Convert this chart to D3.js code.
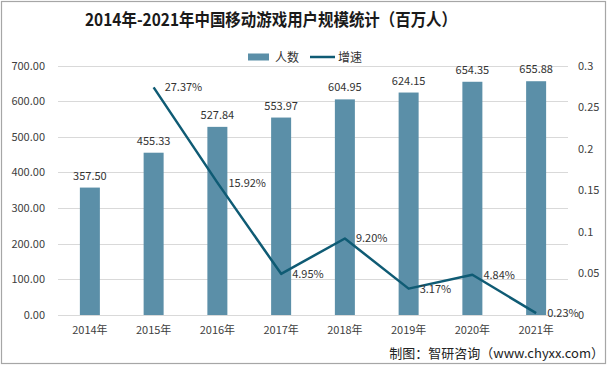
<!DOCTYPE html>
<html><head><meta charset="utf-8">
<script src="https://cdn.jsdelivr.net/npm/d3@7"></script>
<style>body{margin:0;background:#fff}svg{display:block}text{font-family:"Noto Sans CJK SC","Noto Sans",sans-serif}</style>
</head><body>
<svg id="c" width="608" height="366"></svg>
<script>
const years = ["2014年","2015年","2016年","2017年","2018年","2019年","2020年","2021年"];
const users = [357.50,455.33,527.84,553.97,604.95,624.15,654.35,655.88];
const growth = [null,0.2737,0.1592,0.0495,0.0920,0.0317,0.0484,0.0023];
const growthLabels = [null,"27.37%","15.92%","4.95%","9.20%","3.17%","4.84%","0.23%"];
const leftTicks = [0,100,200,300,400,500,600,700];
const rightTicks = [0,0.05,0.1,0.15,0.2,0.25,0.3];
const rightTickLabels = ["0","0.05","0.1","0.15","0.2","0.25","0.3"];

const svg = d3.select("#c");
const L = 58, R = 568, T = 65.5, B = 315;
const x = d3.scaleBand().domain(years).range([L, R]);
const yL = d3.scaleLinear().domain([0,700]).range([B, T]);
const yR = d3.scaleLinear().domain([0,0.3]).range([B, T]);
const barColor = "#5b8fa8", lineColor = "#0f5b74";

svg.append("rect").attr("x",1.5).attr("y",1.5).attr("width",604).attr("height",362)
  .attr("fill","#fff").attr("stroke","#a6a6a6").attr("stroke-width",1.2);

// title
const title = svg.append("text").attr("x",85).attr("y",26)
  .attr("font-size",17).attr("font-weight","bold").attr("fill","#1a1a1a")
  .text("2014年-2021年中国移动游戏用户规模统计（百万人）");
title.attr("textLength",372).attr("lengthAdjust","spacingAndGlyphs");

// legend
svg.append("rect").attr("x",248).attr("y",53.5).attr("width",21).attr("height",7).attr("fill",barColor);
svg.append("text").attr("x",275).attr("y",61.5).attr("font-size",12).attr("fill","#333").text("人数");
svg.append("line").attr("x1",310).attr("x2",335).attr("y1",57).attr("y2",57).attr("stroke",lineColor).attr("stroke-width",2.5);
svg.append("text").attr("x",338).attr("y",61.5).attr("font-size",12).attr("fill","#333").text("增速");

// gridlines
svg.append("g").selectAll("line").data(leftTicks).join("line")
  .attr("x1",L).attr("x2",R).attr("y1",d=>Math.round(yL(d))+0.5).attr("y2",d=>Math.round(yL(d))+0.5)
  .attr("stroke","#d9d9d9").attr("stroke-width",1);

// left axis
const gl = svg.append("g").attr("transform",`translate(${L},0)`)
  .call(d3.axisLeft(yL).tickValues(leftTicks).tickFormat(d3.format(".2f")).tickSize(0).tickPadding(13));
gl.select(".domain").remove();
gl.selectAll("text").attr("font-size",11).attr("fill","#404040").attr("font-family","'Liberation Sans','DejaVu Sans',sans-serif");

// right axis
const gr = svg.append("g").attr("transform",`translate(${R},0)`)
  .call(d3.axisRight(yR).tickValues(rightTicks).tickFormat((d,i)=>rightTickLabels[i]).tickSize(0).tickPadding(10));
gr.select(".domain").remove();
gr.selectAll("text").attr("font-size",11).attr("fill","#404040").attr("font-family","'Liberation Sans','DejaVu Sans',sans-serif");

// x axis
const gx = svg.append("g").attr("transform",`translate(0,${B})`)
  .call(d3.axisBottom(x).tickSize(0).tickPadding(11));
gx.select(".domain").remove();
gx.selectAll("text").attr("font-size",11).attr("fill","#404040");

// bars
const bw = 20;
svg.append("g").selectAll("rect").data(users).join("rect")
  .attr("x",(d,i)=>x(years[i])+x.bandwidth()/2-bw/2).attr("width",bw)
  .attr("y",d=>yL(d)).attr("height",d=>B-yL(d)).attr("fill",barColor);
svg.append("g").selectAll("text").data(users).join("text")
  .attr("x",(d,i)=>x(years[i])+x.bandwidth()/2).attr("y",d=>yL(d)-8)
  .attr("text-anchor","middle").attr("font-size",11).attr("fill","#333")
  .attr("font-family","'Liberation Sans','DejaVu Sans',sans-serif")
  .text(d=>d3.format(".2f")(d));

// line
const pts = growth.map((g,i)=>({g,i})).filter(p=>p.g!==null);
const line = d3.line().x(p=>x(years[p.i])+x.bandwidth()/2).y(p=>yR(p.g));
svg.append("path").datum(pts).attr("d",line).attr("fill","none")
  .attr("stroke",lineColor).attr("stroke-width",2.5).attr("stroke-linejoin","round");
svg.append("g").selectAll("text").data(pts).join("text")
  .attr("x",p=>x(years[p.i])+x.bandwidth()/2+11).attr("y",p=>yR(p.g)+4)
  .attr("font-size",11).attr("fill","#333")
  .attr("font-family","'Liberation Sans','DejaVu Sans',sans-serif")
  .text(p=>growthLabels[p.i]);

// source
svg.append("text").attr("x",604).attr("y",358).attr("text-anchor","end")
  .attr("font-size",13).attr("fill","#222").text("制图：智研咨询（www.chyxx.com）");
</script>
</body></html>
